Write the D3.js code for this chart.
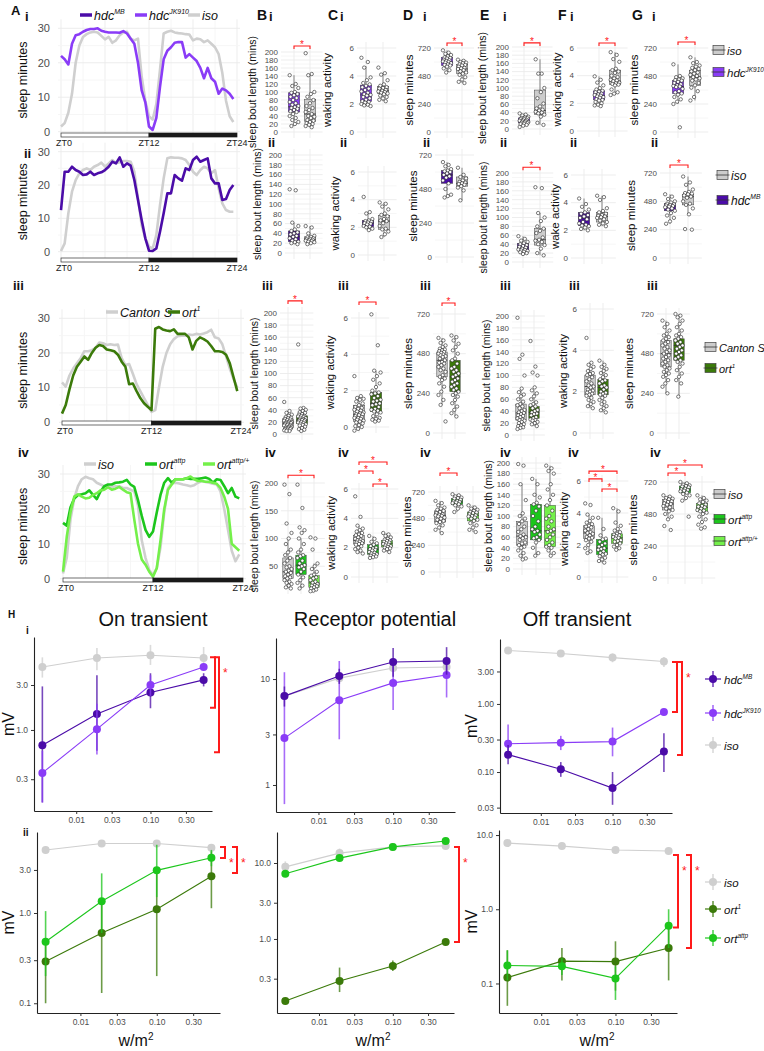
<!DOCTYPE html>
<html>
<head>
<meta charset="utf-8">
<script src="https://cdn.jsdelivr.net/npm/d3@7"></script>
<style>
body { margin: 0; background: #fff; }
svg { display: block; font-family: "Liberation Sans", Arial, sans-serif; }
</style>
</head>
<body>
<svg width="764" height="1051"></svg>
<script>
"use strict";

// ---------- A: sleep minutes per 30 min bin, ZT0 .. ZT23.5 ----------
const sleepA1_jk = [22,21,19.5,25.5,28,28.3,29,29.5,29.8,29.8,30,29.3,29,28.8,28.8,28.8,28.7,29.2,28.5,27,25.5,20,12,8.5,1.5,0.5,4,13,21,23.5,24.5,25.8,26,26,21.5,22.5,21.5,20.5,18.5,15.5,18.5,15.5,14.5,11,12.5,12,11,9.5];
const sleepA1_iso = [1.5,2.5,5.5,11,20,25,27.5,28.3,28.8,29,28.8,27.8,26.8,27.5,25.8,26.5,28,28.8,29,27,26.5,27,16,9,4.5,3.5,8,18,28.5,29,29.3,28.8,28.6,28.5,28.3,28.2,26.5,27,26.8,26,26.5,25.5,24.5,22.5,17,9,4.5,2.8];
const sleepA2_mb = [12.5,24,24,25.5,24.5,24,23,23.2,24,23,23.5,23.8,24.5,25.5,27,26.5,28.3,25.5,26.5,25.8,21.5,15.5,9.5,4,0.3,0.2,1,6,11.5,17.5,17.5,23,22,21.3,25,24.5,27.5,28.5,27,27.5,28,22,20.5,20.5,15.5,15.8,18.5,20];
const sleepA2_iso = [0.2,2.5,11.5,18,21.5,23.5,24.5,25,24.5,25.5,26,26.7,25.5,26.5,27.5,26.5,26.8,27.2,27.2,27,24,16,8,4,1.5,1,5,14,22,28,28.3,28.2,28.2,28,27.5,26,24,23,24.5,25.5,25,23.5,24.5,19,14.5,12.5,12,12];
const sleepA3_cs = [11.5,10.3,13.5,15.5,17,18.5,20.5,20.5,20.8,21.5,23,22.8,22.3,22.5,22.3,22.4,18.5,16.5,16.8,14,11,9,7,5,3,3.5,10,16,20,22.5,24,24.8,25,25,25.3,25.2,25.5,25.3,25.6,26,26.7,24.5,24.2,22.5,19,15.5,12.5,10];
const sleepA3_ort1 = [2.5,5,9.5,13.5,16,17.5,19,18,20,21.5,22.3,22,21,20.8,20.5,19.5,17.5,16,11,11.2,9,7,5.5,4.5,3.5,27,27.5,26.8,26.5,26.3,26.8,25.5,25.5,25.5,24.5,21,23.5,24.5,24,23.3,22,20.5,20.5,20.3,19.5,17,13,9];
const sleepA4_iso = [1.5,6,17,23,26.5,28.5,29.2,28.8,28.5,27.5,27,26.5,26.3,26.3,26.5,26.5,26,26,25.5,25,21,11,6,2.5,1,3,9,19,26,27.3,27.5,27.3,27,26.8,26.5,26.8,27.5,28,27.7,27.5,27.2,27,25,20,14,8,5,7];
const sleepA4_attp = [16,15.2,20.5,23,24,24.2,24.5,25.3,24,22.8,25,26.5,27,27,27.5,27.6,27.8,28.3,27,26.3,22.5,18,14,12,13.5,19,24,27.5,28.8,27.5,28.5,28.5,28.5,28.8,28.6,28.6,28.6,28.8,29,28.6,27.5,28.5,28.3,26.5,24.5,26,23.5,23];
const sleepA4_het = [2,12,19,23.5,24.2,23.5,23,23.2,24,24.5,25.3,25.5,26.2,25.5,25.8,26.3,25.5,24.8,24.5,17,10,5.5,4,2,0.6,3,11,20,25.5,27,28.5,28.5,28.5,28.8,29.3,28.5,28,28,27.8,27.8,27.5,27.2,26,23.5,20,10,9,8];
const sleepTicks = [0, 10, 20, 30];

// ---------- B-G: box plots, stats = [lower whisker, q1, median, q3, upper whisker] ----------
const rowGroups = [["jk", "iso"], ["mb", "iso"], ["cs", "ort1"], ["iso", "attp", "het"]];
const boutTicks = [0,20,40,60,80,100,120,140,160,180,200];
const boutTicksIv = [50,100,150,200];
const wakeTicks = [0,2,4,6];
const minTicks = [0,240,480,720];

const statsBi = [[15,50,63,98,142],[12,27,45,82,145]];
const ptsBi = [[142,120,115,110,100,98,95,92,88,85,80,75,72,68,65,62,60,58,55,52,50,45,40,35,30,25,20,15],[197,145,142,100,95,88,80,72,65,60,55,50,45,40,38,35,30,28,25,22,20,18,15,12]];
const statsCi = [[1.85,2.2,2.65,3.35,4.7],[2.2,2.75,2.95,3.25,4.2]];
const ptsCi = [[5.3,5.0,4.6,3.9,3.7,3.5,3.4,3.3,3.2,3.1,3.0,2.9,2.8,2.7,2.65,2.6,2.5,2.4,2.3,2.2,2.15,2.1,2.0,1.95,1.9,1.85],[4.6,4.2,4.1,3.7,3.4,3.3,3.2,3.15,3.1,3.0,2.95,2.9,2.85,2.8,2.75,2.7,2.6,2.5,2.4,2.3,2.2]];
const statsDi = [[510,570,600,640,700],[420,500,540,580,620]];
const ptsDi = [[700,680,670,660,650,640,635,630,620,615,610,605,600,595,590,580,575,570,560,545,530,510],[620,610,600,595,590,580,575,570,560,550,545,540,530,520,510,500,490,470,450,430,420]];
const statsEi = [[5,15,20,27,38],[10,35,45,95,170]];
const ptsEi = [[38,35,33,30,28,27,26,25,24,22,21,20,19,18,17,16,15,14,13,12,10,8,5],[170,135,135,100,90,75,62,55,50,47,45,42,40,38,35,30,15,10]];
const statsFi = [[1.8,2.25,2.55,2.9,3.95],[2.6,3.35,3.6,4.4,5.7]];
const ptsFi = [[3.95,3.7,3.5,3.3,3.1,3.0,2.9,2.85,2.8,2.7,2.65,2.6,2.55,2.5,2.45,2.4,2.3,2.25,2.2,2.1,2.0,1.9,1.85,1.8],[5.7,5.5,5.2,5.0,4.5,4.4,4.3,4.2,4.0,3.9,3.8,3.7,3.65,3.6,3.5,3.45,3.4,3.35,3.3,3.0,2.8,2.7,2.6]];
const statsGi = [[240,330,390,440,580],[270,400,470,530,640]];
const ptsGi = [[580,480,470,460,450,445,440,430,420,410,400,395,390,385,370,350,340,330,320,300,280,260,240,40],[640,600,590,570,560,550,540,530,520,510,500,490,480,470,460,450,440,420,400,380,350,300,270]];

const statsBii = [[18,23,33,45,62],[18,23,28,33,55]];
const ptsBii = [[130,128,62,55,48,45,42,40,38,35,33,30,28,25,23,22,20,18],[55,52,40,35,33,32,30,29,28,27,26,25,24,23,22,20,18]];
const statsCii = [[1.8,2.05,2.3,2.5,3.1],[1.3,1.85,2.45,2.85,3.8]];
const ptsCii = [[4.2,3.1,3.0,2.6,2.5,2.45,2.4,2.35,2.3,2.25,2.2,2.1,2.05,2.0,1.9,1.8],[3.8,3.7,3.5,3.3,3.0,2.9,2.8,2.6,2.5,2.45,2.3,2.1,1.9,1.85,1.7,1.5,1.3]];
const statsDii = [[420,520,580,610,670],[400,500,520,565,630]];
const ptsDii = [[670,650,640,620,610,605,600,590,580,570,560,540,520,480,440,430,420],[630,580,565,555,540,530,525,520,515,510,500,490,470,400]];
const statsEii = [[18,25,32,42,58],[15,38,50,75,110]];
const ptsEii = [[58,52,48,45,42,40,38,36,34,32,30,28,27,26,25,23,22,20,18],[168,166,110,100,92,80,75,70,65,55,50,48,45,40,38,30,20,15]];
const statsFii = [[2.0,2.35,2.9,3.3,4.3],[2.3,2.6,3.0,3.3,4.5]];
const ptsFii = [[4.3,3.9,3.7,3.5,3.3,3.2,3.1,3.0,2.9,2.8,2.6,2.5,2.4,2.35,2.3,2.2,2.1,2.0],[4.5,4.4,4.2,3.6,3.4,3.3,3.2,3.1,3.05,3.0,2.95,2.9,2.8,2.7,2.6,2.5,2.4,2.3]];
const statsGii = [[290,400,440,460,540],[370,450,520,540,690]];
const ptsGii = [[540,520,500,480,470,460,455,450,445,440,435,430,420,410,400,380,360,340,310,290],[690,640,620,580,560,550,545,540,530,520,510,480,460,450,420,370,245,240]];

const statsBiii = [[5,12,18,25,38],[5,17,23,30,43]];
const ptsBiii = [[53,38,35,32,30,28,27,26,25,24,23,22,21,20,20,19,18,18,17,16,15,15,14,13,12,12,11,10,10,9,8,8,7,6,5,5],[148,43,42,40,38,36,35,33,32,30,30,29,28,27,26,25,24,23,23,22,21,20,19,18,17,16,15,14,12,10,8,7,5]];
const statsCiii = [[-0.2,0.3,0.7,1.2,1.7],[0.3,0.85,1.3,1.9,3.1]];
const ptsCiii = [[2.8,1.7,1.6,1.55,1.5,1.4,1.3,1.2,1.1,1.05,1.0,0.95,0.9,0.85,0.8,0.75,0.7,0.7,0.65,0.6,0.55,0.5,0.5,0.45,0.4,0.35,0.3,0.25,0.2,0.1,0.05,0.0,-0.1,-0.2],[6.2,4.5,3.1,3.0,2.8,2.6,2.4,2.2,2.0,1.9,1.85,1.8,1.7,1.6,1.5,1.45,1.4,1.3,1.25,1.2,1.1,1.0,0.95,0.9,0.85,0.8,0.7,0.6,0.5,0.45,0.4,0.35,0.3]];
const statsDiii = [[170,340,440,490,575],[100,250,340,440,590]];
const ptsDiii = [[575,560,545,530,520,510,505,500,495,490,485,480,475,470,465,460,450,440,430,425,420,410,400,390,380,370,350,340,330,320,300,280,250,230,200,170,70],[590,580,560,540,520,500,480,450,440,420,400,390,380,370,360,350,340,330,320,310,300,290,280,270,260,250,240,230,220,200,180,160,140,120,100]];
const statsEiii = [[10,25,37,52,78],[15,28,38,48,75]];
const ptsEiii = [[197,135,128,100,78,72,68,65,60,56,52,50,48,45,42,40,38,37,35,33,32,30,28,26,25,24,22,20,18,16,15,13,12,10],[158,115,105,100,80,75,70,65,60,55,52,50,48,45,42,40,38,36,35,33,30,28,26,25,24,22,20,18,15]];
const statsFiii = [[1.2,1.85,2.25,2.8,3.4],[1.0,1.85,2.2,2.6,3.5]];
const ptsFiii = [[4.6,3.4,3.3,3.2,3.1,3.0,2.9,2.85,2.8,2.7,2.6,2.5,2.4,2.3,2.25,2.2,2.1,2.05,2.0,1.95,1.9,1.85,1.8,1.7,1.6,1.5,1.4,1.3,1.2],[3.5,3.3,3.2,3.1,3.0,2.9,2.8,2.7,2.6,2.55,2.5,2.4,2.3,2.25,2.2,2.1,2.0,1.95,1.9,1.85,1.8,1.7,1.6,1.5,1.4,1.3,1.2,1.1,1.0]];
const statsGiii = [[240,400,480,560,680],[220,440,530,570,720]];
const ptsGiii = [[680,660,640,620,600,590,580,570,560,550,540,530,520,510,500,490,480,470,460,450,440,430,420,410,400,390,380,370,360,350,340,320,300,280,240],[720,710,700,680,660,640,620,600,590,580,570,560,550,540,530,520,510,500,490,480,470,460,450,440,430,420,400,380,360,340,320,300,220]];

const statsBiv = [[10,28,40,65,100],[10,35,52,70,100],[5,12,20,33,55]];
const ptsBiv = [[197,180,127,110,100,90,80,75,70,65,60,55,50,48,45,42,40,38,35,32,30,28,25,22,20,18,15,12,10],[197,155,120,115,110,100,90,80,75,70,68,65,60,55,52,50,48,45,40,35,30,25,20,15,10],[102,100,80,55,50,45,40,35,33,30,28,25,22,20,18,16,15,14,12,10,8,6,5]];
const statsCiv = [[1.6,2.25,2.5,2.85,3.5],[1.3,1.55,1.9,2.2,2.8],[1.7,2.05,2.3,2.5,3.0]];
const ptsCiv = [[5.5,4.1,3.5,3.3,3.2,3.1,3.0,2.9,2.85,2.8,2.7,2.6,2.55,2.5,2.45,2.4,2.35,2.3,2.25,2.2,2.1,2.0,1.9,1.8,1.7,1.6],[2.8,2.6,2.4,2.3,2.2,2.1,2.0,1.95,1.9,1.85,1.8,1.7,1.65,1.6,1.55,1.5,1.45,1.4,1.35,1.3],[3.0,2.9,2.8,2.7,2.6,2.55,2.5,2.45,2.4,2.35,2.3,2.25,2.2,2.15,2.1,2.05,2.0,1.95,1.9,1.8,1.7]];
const statsDiv = [[350,450,510,550,640],[540,610,630,660,700],[360,460,510,540,600]];
const ptsDiv = [[640,620,600,580,570,560,550,540,530,520,515,510,505,500,490,480,470,460,450,440,420,400,380,350],[700,690,680,670,665,660,650,640,635,630,625,620,610,600,590,570,540],[600,580,570,560,550,540,535,530,520,510,505,500,490,480,470,460,440,420,400,380,360]];
const statsEiv = [[18,45,62,90,160],[25,55,72,122,170],[25,42,72,120,195]];
const ptsEiv = [[198,195,160,130,105,100,95,90,85,80,75,70,65,62,60,58,55,50,48,45,42,40,35,30,25,20,18],[170,160,140,135,125,122,118,110,100,90,80,75,72,70,65,60,58,55,50,40,30,25],[195,190,185,180,160,150,140,130,120,110,100,95,90,80,75,72,70,65,60,55,50,45,42,40,35,30,25]];
const statsFiv = [[1.5,2.4,2.75,3.2,3.9],[0.9,1.4,1.8,2.35,3.7],[1.7,2.1,2.45,2.7,4.3]];
const ptsFiv = [[4.6,4.5,3.9,3.7,3.5,3.4,3.3,3.2,3.15,3.1,3.0,2.9,2.8,2.75,2.7,2.6,2.5,2.45,2.4,2.3,2.2,2.0,1.8,1.6,1.5],[3.7,3.0,2.6,2.4,2.35,2.2,2.1,2.0,1.9,1.8,1.75,1.7,1.6,1.5,1.45,1.4,1.3,1.2,1.1,1.0,0.9],[4.3,4.1,3.4,3.2,3.0,2.9,2.8,2.7,2.65,2.6,2.55,2.5,2.45,2.4,2.3,2.25,2.2,2.1,2.0,1.9,1.8,1.7]];
const statsGiv = [[440,510,555,590,620],[580,640,660,690,720],[400,500,530,560,620]];
const ptsGiv = [[620,610,600,595,590,580,575,570,560,555,550,540,530,520,510,500,480,460,440,390,360],[720,710,700,695,690,685,680,670,665,660,655,650,640,630,620,600,580,460],[620,600,590,580,570,560,550,540,535,530,520,510,505,500,490,480,460,440,420,400,380,370]];

// significance brackets: [group a, group b, height in data units]
const sigBi = [[0,1,215]], sigDi = [[0,1,763]], sigEi = [[0,1,210]], sigFi = [[0,1,6.36]], sigGi = [[0,1,771]];
const sigEii = [[0,1,213]], sigGii = [[0,1,788]];
const sigBiii = [[0,1,220]], sigCiii = [[0,1,6.88]], sigDiii = [[0,1,787]];
const sigBiv = [[0,2,214]], sigCiv = [[0,2,7.84],[0,1,7.23],[1,2,6.34]], sigDiv = [[0,1,891]];
const sigFiv = [[0,2,6.62],[0,1,6.13],[1,2,5.5]], sigGiv = [[0,1,788],[0,2,848]];

// ---------- H: ERG amplitudes (mV); each series = [mean, lower, upper] ----------
const irradiance = [0.0035, 0.019, 0.1, 0.52];
const irrTicks = [0.01, 0.03, 0.1, 0.3];
const onIsoH = [[4.66,5.8,6.2,5.8],[3.6,4.3,4.9,4.3],[5.9,7.4,8.0,7.6]];
const onMB = [[0.69,1.48,2.5,3.4],[0.17,0.6,1.7,2.9],[2.9,3.8,4.0,4.0]];
const onJK = [[0.35,1.02,3.0,4.66],[0.17,0.55,2.3,4.4],[0.6,1.9,3.8,4.9]];
const rpIsoH = [[6.9,10.2,12.7,13],[6.4,9.6,12,12.3],[7.4,10.8,13.4,13.7]];
const rpMB = [[6.9,10.7,14.5,14.8],[5.5,9.0,10.5,11],[8.5,12.5,19.6,20]];
const rpJK = [[2.77,6.3,9.2,10.9],[0.66,2.7,5.1,6.7],[11.6,14.8,14,16]];
const offIsoH = [[6.1,5.5,4.8,4.2],[5.4,4.9,4.1,3.5],[6.8,6.1,5.5,4.9]];
const offMB = [[0.18,0.11,0.058,0.2],[0.13,0.085,0.033,0.1],[0.25,0.14,0.1,0.37]];
const offJK = [[0.26,0.27,0.28,0.76],[0.17,0.21,0.17,0.7],[0.5,0.34,0.45,0.82]];
const onIsoO = [[5.0,5.9,5.9,5.3],[4.6,5.5,5.5,4.9],[5.4,6.3,6.3,5.7]];
const onOrt1 = [[0.29,0.6,1.1,2.55],[0.1,0.13,0.2,1.13],[0.5,1.3,3.0,4.8]];
const onAttp = [[0.48,1.35,2.97,4.1],[0.2,0.6,1.5,3.3],[1.05,2.75,5.7,5.0]];
const rpIsoO = [[8.9,13.5,16.3,16.8],[7.5,12,15.5,16],[10.5,15.5,17,17.5]];
const rpOrt1 = [[0.153,0.28,0.44,0.91],[0.14,0.2,0.38,0.87],[0.165,0.42,0.52,0.95]];
const rpAttp = [[7.2,11.6,16.3,19.5],[6.9,11.1,15.6,18.7],[7.5,12.1,17,20.3]];
const offIsoO = [[7.8,7.1,6.3,6.1],[7.3,6.6,5.8,5.6],[8.3,7.6,6.8,6.6]];
const offOrt1 = [[0.12,0.2,0.197,0.3],[0.05,0.11,0.08,0.11],[0.28,0.3,0.37,0.6]];
const offAttp = [[0.175,0.17,0.117,0.6],[0.11,0.13,0.06,0.3],[0.28,0.22,0.17,1.0]];
// brackets: [top mV, bottom mV, offset px from axis end, star]
const brOnH = [[5.9,1.72,3,false],[5.9,0.58,7,true]];
const brOffH = [[4.15,0.76,5,false],[4.15,0.178,10,true]];
const brOnO = [[5.4,4.08,5,true],[5.4,2.78,17,true]];
const brRpO = [[16.3,0.91,5,true]];
const brOffO = [[5.4,0.57,1,true],[5.4,0.30,14,true]];

// ---------- styles ----------
const geno = {
  iso:  {base: "iso", sup: "", fill: "#cccccc", line: "#cfcfcf"},
  cs:   {base: "Canton S", sup: "", fill: "#cccccc", line: "#cfcfcf"},
  mb:   {base: "hdc", sup: "MB", fill: "#4b0ca8", line: "#4b0ca8"},
  jk:   {base: "hdc", sup: "JK910", fill: "#8a3cf7", line: "#8a3cf7"},
  ort1: {base: "ort", sup: "1", fill: "#3b7a0a", line: "#3b7a0a"},
  attp: {base: "ort", sup: "attp", fill: "#1cc61c", line: "#1cc61c"},
  het:  {base: "ort", sup: "attp/+", fill: "#74f04a", line: "#74f04a"}
};
const RED = "#ff1a1a";
const svg = d3.select("svg");

function genoText(g, x, y, key, size, anchor) {
  const t = g.append("text").attr("x", x).attr("y", y).attr("font-size", size)
    .attr("font-style", "italic").attr("fill", "#111").attr("text-anchor", anchor || "start");
  t.append("tspan").text(geno[key].base);
  if (geno[key].sup) t.append("tspan").attr("dy", -size * 0.42).attr("font-size", size * 0.56).text(geno[key].sup);
  return t;
}
function label(x, y, txt, size, weight) {
  svg.append("text").attr("x", x).attr("y", y).attr("font-size", size)
    .attr("font-weight", weight || "bold").attr("fill", "#111").text(txt);
}

// ---------- A panels ----------
function sleepPanel(cfg, series, legend) {
  const g = svg.append("g");
  const x = d3.scaleLinear().domain([0, 24]).range([cfg.x0, cfg.x1]);
  const y = d3.scaleLinear().domain([0, 30]).range([cfg.y0, cfg.y30]);
  const top = cfg.y30 - 9;
  g.selectAll(".vg").data(d3.range(0, 25, 3)).join("line")
    .attr("x1", d => x(d)).attr("x2", d => x(d)).attr("y1", top).attr("y2", cfg.barY)
    .attr("stroke", d => d % 6 ? "#f5f5f5" : "#ebebeb").attr("stroke-width", 0.9);
  g.selectAll(".hg").data(d3.range(0, 31, 5)).join("line")
    .attr("x1", x(0) - 3).attr("x2", x(24) + 3).attr("y1", d => y(d)).attr("y2", d => y(d))
    .attr("stroke", d => d % 10 ? "#f5f5f5" : "#ebebeb").attr("stroke-width", 0.9);
  g.selectAll(".tl").data(sleepTicks).join("text")
    .attr("x", 50).attr("y", d => y(d)).attr("dy", "0.35em").attr("text-anchor", "end")
    .attr("font-size", 11).attr("fill", "#4d4d4d").text(d => d);
  g.append("text").attr("transform", `translate(${cfg.lx},${(cfg.y0 + cfg.y30) / 2}) rotate(-90)`)
    .attr("text-anchor", "middle").attr("font-size", 12.5).attr("fill", "#111").text("sleep minutes");
  series.forEach(s => {
    g.append("path").datum(s.vals)
      .attr("d", d3.line().x((d, i) => x(i / 2)).y(d => y(d)))
      .attr("fill", "none").attr("stroke", geno[s.key].line).attr("stroke-width", 2.6)
      .attr("stroke-linejoin", "round");
  });
  g.append("rect").attr("x", x(0)).attr("y", cfg.barY).attr("width", x(12) - x(0)).attr("height", 4)
    .attr("fill", "#fff").attr("stroke", "#333").attr("stroke-width", 0.7);
  g.append("rect").attr("x", x(12)).attr("y", cfg.barY).attr("width", x(24) - x(12)).attr("height", 4)
    .attr("fill", "#1a1a1a").attr("stroke", "#1a1a1a").attr("stroke-width", 0.7);
  [0, 12, 24].forEach(h => g.append("text").attr("x", x(h) + (h === 0 ? 3 : 0)).attr("y", cfg.barY + 13)
    .attr("text-anchor", "middle").attr("font-size", 9).attr("fill", "#222").text("ZT" + h));
  legend.items.forEach(it => {
    g.append("line").attr("x1", it.x).attr("x2", it.x + 12).attr("y1", legend.y).attr("y2", legend.y)
      .attr("stroke", geno[it.key].line).attr("stroke-width", 3.5);
    genoText(g, it.x + 14, legend.y + 4.5, it.key, 12.5);
  });
}

sleepPanel({x0: 61, x1: 237, y0: 131.7, y30: 28.3, barY: 133, lx: 27},
  [{key: "iso", vals: sleepA1_iso}, {key: "jk", vals: sleepA1_jk}],
  {y: 15, items: [{key: "mb", x: 80}, {key: "jk", x: 135}, {key: "iso", x: 188}]});
sleepPanel({x0: 61, x1: 237, y0: 251.7, y30: 151.7, barY: 258, lx: 27},
  [{key: "iso", vals: sleepA2_iso}, {key: "mb", vals: sleepA2_mb}], {y: 0, items: []});
sleepPanel({x0: 62, x1: 241, y0: 422.3, y30: 318.3, barY: 421, lx: 27},
  [{key: "cs", vals: sleepA3_cs}, {key: "ort1", vals: sleepA3_ort1}],
  {y: 312, items: [{key: "cs", x: 106}, {key: "ort1", x: 168}]});
sleepPanel({x0: 63, x1: 243, y0: 578.7, y30: 474, barY: 578, lx: 27},
  [{key: "iso", vals: sleepA4_iso}, {key: "attp", vals: sleepA4_attp}, {key: "het", vals: sleepA4_het}],
  {y: 464, items: [{key: "iso", x: 84}, {key: "attp", x: 145}, {key: "het", x: 203}]});

// ---------- B-G panels ----------
const jit = j => ((j * 7) % 11) / 5 - 1;
function boxPanel(cfg, groups, stats, pts, ticks, ymax, ylab, sig) {
  const g = svg.append("g");
  const n = groups.length;
  const step = (cfg.c[n - 1] - cfg.c[0]) / (n - 1);
  const y = d3.scaleLinear().domain([0, ymax]).range([cfg.zero, cfg.top]);
  const left = cfg.tx + 3, right = cfg.c[n - 1] + 0.6 * step + 3;
  const gTop = cfg.top - 6, gBot = Math.min(cfg.zero + 6, 594);
  const minor = d3.pairs(ticks).map(p => (p[0] + p[1]) / 2);
  g.selectAll(".mn").data(minor).join("line").attr("x1", left).attr("x2", right)
    .attr("y1", d => y(d)).attr("y2", d => y(d)).attr("stroke", "#f4f4f4").attr("stroke-width", 0.8);
  g.selectAll(".mj").data(ticks).join("line").attr("x1", left).attr("x2", right)
    .attr("y1", d => y(d)).attr("y2", d => y(d)).attr("stroke", "#ebebeb").attr("stroke-width", 0.9);
  g.selectAll(".vg").data(cfg.c).join("line").attr("x1", d => d).attr("x2", d => d)
    .attr("y1", gTop).attr("y2", gBot).attr("stroke", "#ebebeb").attr("stroke-width", 0.9);
  g.selectAll(".tl").data(ticks).join("text").attr("x", cfg.tx).attr("y", d => y(d)).attr("dy", "0.35em")
    .attr("text-anchor", "end").attr("font-size", 8).attr("fill", "#4d4d4d").text(d => d);
  g.append("text").attr("transform", `translate(${cfg.lx},${(cfg.top + Math.min(cfg.zero, 590)) / 2}) rotate(-90)`)
    .attr("text-anchor", "middle").attr("font-size", ylab.length > 20 ? 10.5 : 11.5).attr("fill", "#111").text(ylab);
  const bw = Math.min(11.5, step * 0.8);
  groups.forEach((k, i) => {
    const [lo, q1, md, q3, hi] = stats[i];
    const cx = cfg.c[i];
    g.append("line").attr("x1", cx).attr("x2", cx).attr("y1", y(hi)).attr("y2", y(lo))
      .attr("stroke", "#555").attr("stroke-width", 0.7);
    g.append("rect").attr("x", cx - bw / 2).attr("y", y(q3)).attr("width", bw).attr("height", y(q1) - y(q3))
      .attr("fill", geno[k].fill).attr("stroke", "#444").attr("stroke-width", 0.5);
    g.append("line").attr("x1", cx - bw / 2).attr("x2", cx + bw / 2).attr("y1", y(md)).attr("y2", y(md))
      .attr("stroke", "#333").attr("stroke-width", 0.9);
    g.selectAll(".pt" + i).data(pts[i]).join("circle")
      .attr("cx", (d, j) => cx + jit(j) * step * 0.27).attr("cy", d => y(d)).attr("r", 1.7)
      .attr("fill", "#fff").attr("stroke", "#222").attr("stroke-width", 0.6);
  });
  (sig || []).forEach(([a, b, h]) => {
    const yy = y(h);
    g.append("path").attr("d", `M${cfg.c[a]},${yy + 3}V${yy}H${cfg.c[b]}V${yy + 3}`)
      .attr("fill", "none").attr("stroke", RED).attr("stroke-width", 1.1);
    g.append("text").attr("x", (cfg.c[a] + cfg.c[b]) / 2).attr("y", yy + 2).attr("text-anchor", "middle")
      .attr("font-size", 10).attr("fill", RED).text("*");
  });
}

const BOUT = "sleep bout length (mins)", WAKE = "waking activity", MINS = "sleep minutes";
// row i
boxPanel({tx: 278, c: [294, 310], top: 52, zero: 132, lx: 256}, rowGroups[0], statsBi, ptsBi, boutTicks, 200, BOUT, sigBi);
boxPanel({tx: 354, c: [366, 383], top: 48, zero: 132, lx: 331}, rowGroups[0], statsCi, ptsCi, wakeTicks, 6, WAKE);
boxPanel({tx: 431, c: [447, 462], top: 48, zero: 132, lx: 413}, rowGroups[0], statsDi, ptsDi, minTicks, 720, MINS, sigDi);
boxPanel({tx: 509, c: [524, 540], top: 47, zero: 129, lx: 486}, rowGroups[0], statsEi, ptsEi, boutTicks, 200, BOUT, sigEi);
boxPanel({tx: 574, c: [599, 615], top: 48, zero: 131, lx: 561}, rowGroups[0], statsFi, ptsFi, wakeTicks, 6, WAKE, sigFi);
boxPanel({tx: 657, c: [678, 695], top: 48, zero: 132, lx: 638}, rowGroups[0], statsGi, ptsGi, minTicks, 720, MINS, sigGi);
// row ii
boxPanel({tx: 282, c: [294, 310], top: 155, zero: 253, lx: 261}, rowGroups[1], statsBii, ptsBii, boutTicks, 200, BOUT);
boxPanel({tx: 355, c: [368, 384], top: 172, zero: 255, lx: 339}, rowGroups[1], statsCii, ptsCii, wakeTicks, 6, WAKE);
boxPanel({tx: 432, c: [447, 462], top: 155, zero: 257, lx: 417}, rowGroups[1], statsDii, ptsDii, minTicks, 720, MINS);
boxPanel({tx: 509, c: [523, 540], top: 173, zero: 262, lx: 487}, rowGroups[1], statsEii, ptsEii, boutTicks, 200, BOUT, sigEii);
boxPanel({tx: 568, c: [584, 602], top: 175, zero: 258, lx: 559}, rowGroups[1], statsFii, ptsFii, wakeTicks, 6, "wake activity");
boxPanel({tx: 657, c: [670, 688], top: 173, zero: 258, lx: 635}, rowGroups[1], statsGii, ptsGii, minTicks, 720, MINS, sigGii);
// row iii
boxPanel({tx: 277, c: [288, 302], top: 313, zero: 434, lx: 258}, rowGroups[2], statsBiii, ptsBiii, boutTicks, 200, BOUT, sigBiii);
boxPanel({tx: 348, c: [359, 376], top: 318, zero: 427, lx: 334}, rowGroups[2], statsCiii, ptsCiii, wakeTicks, 6, WAKE, sigCiii);
boxPanel({tx: 430, c: [442, 455], top: 314, zero: 433, lx: 412}, rowGroups[2], statsDiii, ptsDiii, minTicks, 720, MINS, sigDiii);
boxPanel({tx: 509, c: [521, 534], top: 316, zero: 435, lx: 490}, rowGroups[2], statsEiii, ptsEiii, boutTicks, 200, BOUT);
boxPanel({tx: 577, c: [590, 603], top: 309, zero: 433, lx: 567}, rowGroups[2], statsFiii, ptsFiii, wakeTicks, 6, WAKE);
boxPanel({tx: 654, c: [666, 679], top: 314, zero: 433, lx: 633}, rowGroups[2], statsGiii, ptsGiii, minTicks, 720, MINS);
// row iv
boxPanel({tx: 278, c: [288, 301, 314], top: 483, zero: 594, lx: 258}, rowGroups[3], statsBiv, ptsBiv, boutTicksIv, 200, BOUT, sigBiv);
boxPanel({tx: 348, c: [359, 373, 387], top: 489, zero: 577, lx: 335}, rowGroups[3], statsCiv, ptsCiv, wakeTicks, 6, WAKE, sigCiv);
boxPanel({tx: 425, c: [440, 457, 473], top: 492, zero: 572, lx: 411}, rowGroups[3], statsDiv, ptsDiv, minTicks, 720, MINS, sigDiv);
boxPanel({tx: 510, c: [522, 536, 550], top: 463, zero: 569, lx: 492}, rowGroups[3], statsEiv, ptsEiv, boutTicks, 200, BOUT);
boxPanel({tx: 581, c: [589, 602, 617], top: 481, zero: 577, lx: 568}, rowGroups[3], statsFiv, ptsFiv, wakeTicks, 6, WAKE, sigFiv);
boxPanel({tx: 657, c: [668, 685, 702], top: 482, zero: 578, lx: 637}, rowGroups[3], statsGiv, ptsGiv, minTicks, 720, MINS, sigGiv);

function boxLegend(x, ys, keys, size) {
  const g = svg.append("g");
  keys.forEach((k, i) => {
    const yy = ys[i];
    g.append("line").attr("x1", x - 1.5).attr("x2", x + 12.5).attr("y1", yy).attr("y2", yy).attr("stroke", "#444").attr("stroke-width", 0.8);
    g.append("rect").attr("x", x).attr("y", yy - 4.5).attr("width", 11).attr("height", 9)
      .attr("fill", geno[k].fill).attr("stroke", "#444").attr("stroke-width", 0.7);
    g.append("line").attr("x1", x).attr("x2", x + 11).attr("y1", yy).attr("y2", yy).attr("stroke", "#333").attr("stroke-width", 0.8);
    genoText(g, x + 14, yy + 4.5, k, size);
  });
}
boxLegend(713, [50, 72], ["iso", "jk"], 11.5);
boxLegend(717, [175, 200], ["iso", "mb"], 12);
boxLegend(705, [347, 368], ["cs", "ort1"], 11);
boxLegend(714, [494, 519, 541], ["iso", "attp", "het"], 11.5);

// ---------- H panels ----------
const xIrr = d3.scaleLog().domain([0.0027, 0.674]);
function tracePanel(cfg, series, yTicks, yFmt, brackets) {
  const g = svg.append("g");
  const x = xIrr.copy().range([cfg.x0, cfg.x1]);
  const y = d3.scaleLog().domain(cfg.yd).range([cfg.yb, cfg.yt]);
  const ax = g.append("g").attr("transform", `translate(${cfg.x0},0)`)
    .call(d3.axisLeft(y).tickValues(yTicks).tickFormat(yFmt).tickSize(3).tickSizeOuter(0));
  const bx = g.append("g").attr("transform", `translate(0,${cfg.yb})`)
    .call(d3.axisBottom(x).tickValues(irrTicks).tickFormat(d3.format(".2f")).tickSize(3).tickSizeOuter(0));
  [ax, bx].forEach(a => {
    a.attr("font-family", null).attr("font-size", 8.5);
    a.select(".domain").attr("stroke", "#222").attr("stroke-width", 1.1);
    a.selectAll(".tick line").attr("stroke", "#333");
    a.selectAll(".tick text").attr("fill", "#4d4d4d");
  });
  series.forEach(s => {
    const col = geno[s.key].line;
    const [m, lo, hi] = s.vals;
    g.selectAll(null).data(m).join("line")
      .attr("x1", (d, i) => x(irradiance[i])).attr("x2", (d, i) => x(irradiance[i]))
      .attr("y1", (d, i) => y(lo[i])).attr("y2", (d, i) => y(hi[i]))
      .attr("stroke", col).attr("stroke-width", 1.6).attr("opacity", 0.75);
    g.append("path").datum(m).attr("d", d3.line().x((d, i) => x(irradiance[i])).y(d => y(d)))
      .attr("fill", "none").attr("stroke", col).attr("stroke-width", 1.1);
    g.selectAll(null).data(m).join("circle").attr("cx", (d, i) => x(irradiance[i])).attr("cy", d => y(d))
      .attr("r", 4).attr("fill", col);
  });
  brackets.forEach(([t, b, dx, star]) => {
    const bxp = cfg.x1 + dx, y1 = y(t), y2 = y(b);
    g.append("path").attr("d", `M${bxp - 5},${y1}H${bxp}V${y2}H${bxp - 5}`)
      .attr("fill", "none").attr("stroke", RED).attr("stroke-width", 2);
    if (star) g.append("text").attr("x", bxp + 4).attr("y", y1 + 20).attr("font-size", 12).attr("fill", RED).text("*");
  });
  if (cfg.mv) g.append("text").attr("transform", `translate(${cfg.mv},${(cfg.yt + cfg.yb) / 2}) rotate(-90)`)
    .attr("text-anchor", "middle").attr("font-size", 16).attr("dy", "0.35em").attr("fill", "#111").text("mV");
  if (cfg.title) g.append("text").attr("x", cfg.tx).attr("y", 626).attr("text-anchor", "middle")
    .attr("font-size", 20).attr("fill", "#111").text(cfg.title);
  if (cfg.xl) {
    const t = g.append("text").attr("x", cfg.xl).attr("y", 1046).attr("text-anchor", "middle")
      .attr("font-size", 16).attr("fill", "#111");
    t.append("tspan").text("w/m");
    t.append("tspan").attr("dy", -6).attr("font-size", 10).text("2");
  }
}
const f1 = d3.format(".1f"), f0 = d3.format("d"), f2 = d3.format(".2f");
tracePanel({x0: 34, x1: 212, yb: 811, yt: 637, yd: [0.138, 9.7], mv: 8, title: "On transient", tx: 153},
  [{key: "iso", vals: onIsoH}, {key: "mb", vals: onMB}, {key: "jk", vals: onJK}], [0.3, 1, 3], f1, brOnH);
tracePanel({x0: 276, x1: 455, yb: 812, yt: 638, yd: [0.556, 24.4], title: "Receptor potential", tx: 375},
  [{key: "iso", vals: rpIsoH}, {key: "jk", vals: rpJK}, {key: "mb", vals: rpMB}], [1, 3, 10], f0, []);
tracePanel({x0: 500, x1: 672, yb: 813, yt: 639, yd: [0.025, 9.0], mv: 471, title: "Off transient", tx: 577},
  [{key: "iso", vals: offIsoH}, {key: "jk", vals: offJK}, {key: "mb", vals: offMB}], [0.03, 0.1, 0.3, 1, 3], f2, brOffH);
tracePanel({x0: 37, x1: 220, yb: 1013, yt: 832, yd: [0.078, 7.9], mv: 8, xl: 136},
  [{key: "iso", vals: onIsoO}, {key: "ort1", vals: onOrt1}, {key: "attp", vals: onAttp}], [0.1, 0.3, 1, 3], f1, brOnO);
tracePanel({x0: 277, x1: 454, yb: 1013, yt: 832, yd: [0.106, 25.6], xl: 373},
  [{key: "iso", vals: rpIsoO}, {key: "ort1", vals: rpOrt1}, {key: "attp", vals: rpAttp}], [0.3, 1, 3, 10], f1, brRpO);
tracePanel({x0: 499, x1: 677, yb: 1013, yt: 830, yd: [0.04, 11.7], mv: 471, xl: 597},
  [{key: "iso", vals: offIsoO}, {key: "ort1", vals: offOrt1}, {key: "attp", vals: offAttp}], [0.1, 1, 10], f1, brOffO);

function traceLegend(x, ys, keys) {
  const g = svg.append("g");
  keys.forEach((k, i) => {
    const yy = ys[i], col = geno[k].line;
    g.append("line").attr("x1", x - 8).attr("x2", x + 8).attr("y1", yy).attr("y2", yy).attr("stroke", col).attr("stroke-width", 1.2);
    g.append("line").attr("x1", x).attr("x2", x).attr("y1", yy - 8).attr("y2", yy + 8).attr("stroke", col).attr("stroke-width", 1.6).attr("opacity", 0.75);
    g.append("circle").attr("cx", x).attr("cy", yy).attr("r", 4).attr("fill", col);
    genoText(g, x + 11, yy + 4.5, k, 11.5);
  });
}
traceLegend(713, [679, 713, 745], ["mb", "jk", "iso"]);
traceLegend(713, [882, 909, 938], ["iso", "ort1", "attp"]);

// ---------- panel letters ----------
label(11, 15, "A", 13);
[["B", 257], ["C", 328], ["D", 403], ["E", 480], ["F", 558], ["G", 632]].forEach(([l, x]) => label(x, 20, l, 14));
label(25, 21, "i", 13); label(24, 158, "ii", 13); label(13, 290, "iii", 13); label(18, 457, "iv", 13);
[269, 340, 423, 503, 570, 652].forEach(x => label(x, 21, "i", 13));
[268, 340, 423, 500, 570, 651].forEach(x => label(x, 147, "ii", 13));
[262, 338, 420, 500, 569, 647].forEach(x => label(x, 290, "iii", 13));
[265, 338, 420, 500, 568, 650].forEach(x => label(x, 457, "iv", 13));
label(8, 618, "H", 10);
label(26, 634, "i", 10);
label(23, 836, "ii", 10);
</script>
</body>
</html>
